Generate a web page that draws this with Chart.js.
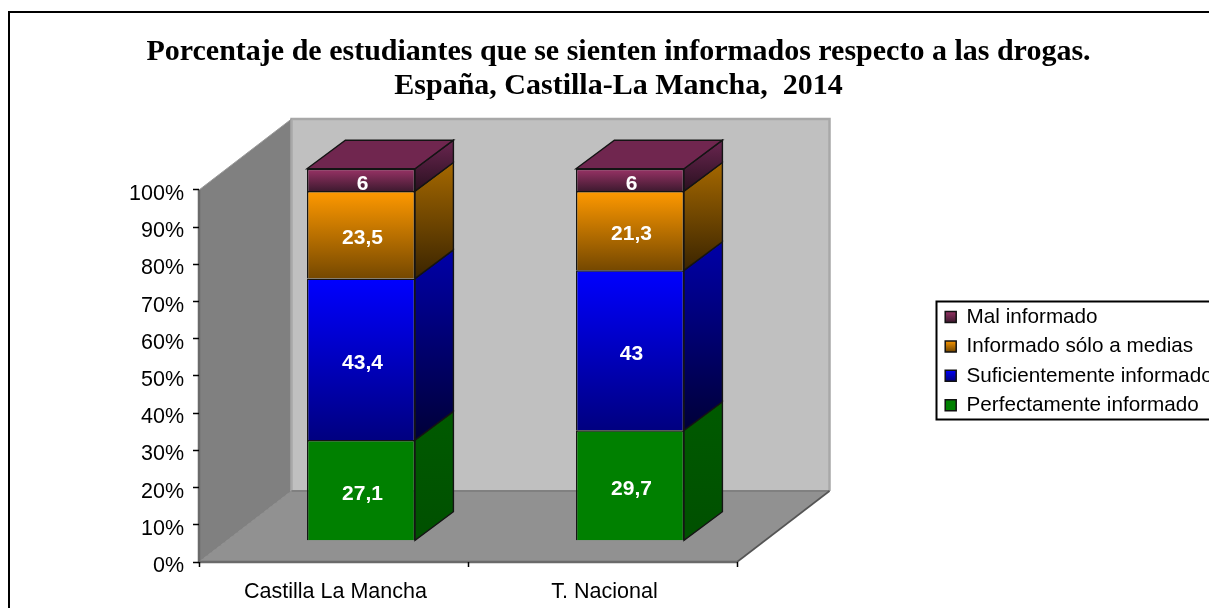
<!DOCTYPE html>
<html><head><meta charset="utf-8">
<style>html,body{margin:0;padding:0;background:#fff;overflow:hidden}canvas{display:block}</style>
<script src="https://cdn.jsdelivr.net/npm/chart.js@4"></script></head>
<body><canvas id="c" width="1209" height="608"></canvas>
<script>
const categories = ["Castilla La Mancha", "T. Nacional"];
const perfectamente = [27.1, 29.7];
const suficientemente = [43.4, 43];
const aMedias = [23.5, 21.3];
const mal = [6, 6];
const seriesNames = ["Perfectamente informado", "Suficientemente informado", "Informado sólo a medias", "Mal informado"];
const titleLines = ["Porcentaje de estudiantes que se sienten informados respecto a las drogas.", "España, Castilla-La Mancha,  2014"];
const seriesValues = [perfectamente, suficientemente, aMedias, mal];

// front top, front bottom, side top, side bottom
const palette = [
  ["#008000", "#008000", "#005a00", "#005000"],
  ["#0000ff", "#000080", "#0000a8", "#000038"],
  ["#ff9900", "#754800", "#a56800", "#3a2400"],
  ["#993366", "#3f1a30", "#6a2650", "#2a1020"]
];
const topFace = "#70264f";
const wall = {dx: 92.5, dy: 71, barDx: 38.4, barDy: 28.6, shiftX: 27.5, shiftY: 21.2};

function cum(ds, i) { let s = 0; for (let k = 0; k < ds; k++) s += seriesValues[k][i]; return s; }
function frontFill(ds) {
  return function (ctx) {
    if (ctx.type !== 'data') return palette[ds][0];
    const y = ctx.chart.scales.y, i = ctx.dataIndex;
    const g = ctx.chart.ctx.createLinearGradient(0, y.getPixelForValue(cum(ds, i) + seriesValues[ds][i]), 0, y.getPixelForValue(cum(ds, i)));
    g.addColorStop(0, palette[ds][0]); g.addColorStop(1, palette[ds][1]);
    return g;
  };
}
function poly(c, pts, fill) {
  c.beginPath(); pts.forEach((p, i) => i ? c.lineTo(p[0], p[1]) : c.moveTo(p[0], p[1])); c.closePath();
  if (fill) { c.fillStyle = fill; c.fill(); }
}
function seg(c, color, width, pts) {
  c.strokeStyle = color; c.lineWidth = width;
  c.beginPath(); pts.forEach((p, i) => i ? c.lineTo(p[0], p[1]) : c.moveTo(p[0], p[1])); c.stroke();
}
const scene = {
  id: 'scene',
  afterLayout(chart) {
    const t = chart.titleBlock; t.left = 20; t.right = 1217;
    const l = chart.legend; l.left = 936.5; l.right = 1400; l.top = 298; l.bottom = 520;
  },
  beforeDraw(chart) {
    const c = chart.ctx, a = chart.chartArea, L = a.left, R = a.right, T = a.top, B = a.bottom, dx = wall.dx, dy = wall.dy;
    c.save();
    seg(c, '#000', 2, [[9, 620], [9, 12], [1220, 12]]);
    c.strokeRect(936.5, 301.5, 400, 118);
    poly(c, [[L, B], [L + dx, B - dy], [L + dx, T - dy], [L, T]], '#808080');
    poly(c, [[L + dx, T - dy], [R + dx, T - dy], [R + dx, B - dy], [L + dx, B - dy]], '#c0c0c0');
    poly(c, [[L, B], [R, B], [R + dx, B - dy], [L + dx, B - dy]], '#919191');
    seg(c, '#a8a8a8', 2.5, [[L + dx, B - dy], [L + dx, T - dy], [R + dx, T - dy], [R + dx, B - dy]]);
    seg(c, '#9a9a9a', 1, [[L, T], [L + dx, T - dy]]);
    seg(c, '#8a8a8a', 1, [[L + dx, B - dy], [L, B]]);
    seg(c, '#808080', 2, [[L + dx, B - dy], [R + dx, B - dy]]);
    seg(c, '#555555', 1.6, [[R + dx, B - dy], [R, B]]);
    seg(c, '#6a6a6a', 2.5, [[L, T], [L, B], [R, B]]);
    c.restore();
  },
  beforeDatasetsDraw(chart) {
    chart.ctx.save();
    chart.ctx.translate(wall.shiftX, -wall.shiftY);
  },
  afterDatasetsDraw(chart) {
    const c = chart.ctx, bx = wall.barDx, by = wall.barDy;
    chart.data.datasets.forEach((d, ds) => {
      chart.getDatasetMeta(ds).data.forEach((el, i) => {
        const p = el.getProps(['x', 'y', 'base', 'width'], true);
        const r = p.x + p.width / 2, l = p.x - p.width / 2;
        const g = c.createLinearGradient(0, p.y - by, 0, p.base);
        g.addColorStop(0, palette[ds][2]); g.addColorStop(1, palette[ds][3]);
        poly(c, [[r, p.y], [r + bx, p.y - by], [r + bx, p.base - by], [r, p.base]], g);
        c.strokeStyle = '#141414'; c.lineWidth = 1.4; c.stroke();
        if (ds === chart.data.datasets.length - 1) {
          poly(c, [[l, p.y], [r, p.y], [r + bx, p.y - by], [l + bx, p.y - by]], topFace);
          c.stroke();
        }
      });
    });
    c.fillStyle = '#fff'; c.font = 'bold 21px "Liberation Sans"'; c.textAlign = 'center'; c.textBaseline = 'middle';
    chart.data.datasets.forEach((d, ds) => {
      chart.getDatasetMeta(ds).data.forEach((el, i) => {
        const p = el.getProps(['x', 'y', 'base'], true);
        c.fillText(String(d.data[i]).replace('.', ','), p.x + 1.5, (p.y + p.base) / 2 + 3.8);
      });
    });
    c.restore();
  }
};
function legendItems(chart) {
  return chart.data.datasets.map((d, ds) => {
    const top = 311 + (3 - ds) * 29.4;
    const g = chart.ctx.createLinearGradient(0, top, 0, top + 11);
    g.addColorStop(0, palette[ds][0]); g.addColorStop(1, palette[ds][1]);
    return {text: d.label, fillStyle: g, strokeStyle: '#111', lineWidth: 1.5, datasetIndex: ds, hidden: false, fontColor: '#000'};
  });
}
new Chart(document.getElementById('c'), {
  type: 'bar',
  plugins: [scene],
  data: {
    labels: categories,
    datasets: seriesNames.map((name, ds) => ({
      label: name,
      data: seriesValues[ds],
      backgroundColor: frontFill(ds),
      borderColor: '#141414',
      borderWidth: 1.4,
      barPercentage: 0.803,
      categoryPercentage: 0.5,
      clip: false
    }))
  },
  options: {
    responsive: false,
    animation: false,
    layout: {padding: {left: 0, top: 0, right: 472, bottom: 0}},
    plugins: {
      tooltip: {enabled: false},
      title: {
        display: true,
        text: titleLines,
        color: '#000',
        font: {family: '"Liberation Serif"', size: 30, weight: 'bold', lineHeight: 1.133},
        padding: {top: 35, bottom: 87}
      },
      legend: {
        display: true,
        position: 'chartArea',
        align: 'start',
        reverse: true,
        labels: {
          generateLabels: legendItems,
          color: '#000',
          font: {family: '"Liberation Sans"', size: 20.7},
          boxWidth: 11, boxHeight: 11,
          padding: 8.7
        }
      }
    },
    scales: {
      x: {
        stacked: true,
        afterFit(s) { s.height = 46; },
        border: {display: false},
        grid: {display: true, drawOnChartArea: false, drawTicks: true, tickLength: 5, color: '#000', tickWidth: 1.5},
        ticks: {color: '#000', padding: 12, maxRotation: 0, labelOffset: 2, font: {family: '"Liberation Sans"', size: 21.5}}
      },
      y: {
        stacked: true,
        min: 0, max: 100,
        afterFit(s) { s.width = 199; },
        border: {display: false},
        grid: {display: true, drawOnChartArea: false, drawTicks: true, tickLength: 6, color: '#000', tickWidth: 1.5},
        ticks: {color: '#000', stepSize: 10, padding: 9, labelOffset: 4, font: {family: '"Liberation Sans"', size: 21.5}, callback: v => v + '%'}
      }
    }
  }
});
</script></body></html>
